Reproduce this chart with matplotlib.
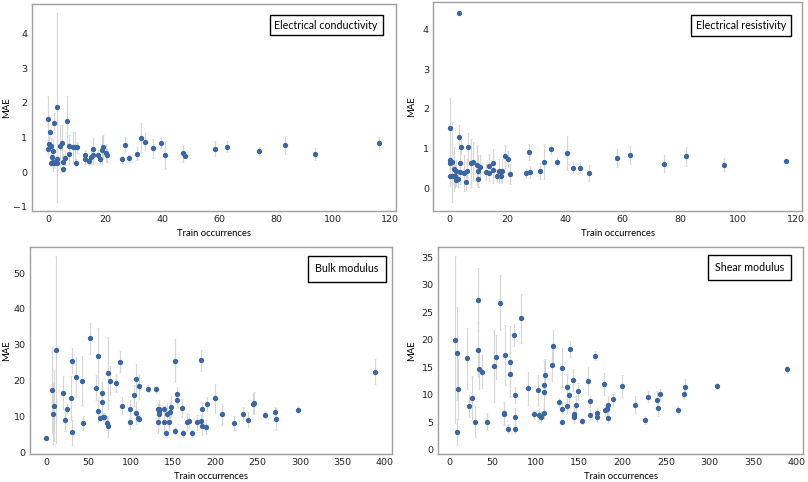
import matplotlib
matplotlib.use("Agg")
import matplotlib.pyplot as plt
import numpy as np

# Electrical conductivity
cond_x = [0, 0.7, 0.2, 0.1, 1.2, 1.4, 0.9, 1.8, 1.8, 2.2, 2.2, 3.1, 3.1, 3.1, 4.2, 4.9, 5.1, 5.2,
          6.0, 6.6, 7.2, 7.5, 8.9, 9.5, 9.8, 10.3, 12.9, 12.9, 14.2, 15.2, 15.6, 15.7, 17.6, 18.3,
          19.0, 19.4, 20.2, 20.6, 25.9, 26.9, 28.3, 31.1, 32.7, 33.9, 36.7, 39.7, 41.0, 47.2, 48.0,
          58.5, 62.8, 73.9, 83.0, 93.7, 116.2]
cond_y = [1.55, 1.16, 0.83, 0.67, 0.75, 0.44, 0.27, 0.30, 0.61, 1.41, 0.26, 1.87, 0.37, 0.26, 0.75,
          0.85, 0.10, 0.29, 0.42, 1.47, 0.77, 0.54, 0.72, 0.72, 0.27, 0.72, 0.50, 0.38, 0.32, 0.45,
          0.68, 0.50, 0.50, 0.38, 0.64, 0.72, 0.56, 0.50, 0.38, 0.80, 0.40, 0.54, 1.00, 0.88, 0.69,
          0.84, 0.50, 0.55, 0.48, 0.68, 0.74, 0.62, 0.79, 0.52, 0.85]
cond_err = [0.65, 0.10, 0.20, 0.15, 0.25, 0.20, 0.10, 0.25, 0.35, 0.30, 0.15, 2.72, 0.30, 0.20, 0.62,
            0.50, 0.10, 0.25, 0.20, 0.73, 0.30, 0.30, 0.45, 0.45, 0.10, 0.15, 0.15, 0.15, 0.10, 0.20,
            0.30, 0.25, 0.15, 0.10, 0.40, 0.35, 0.25, 0.20, 0.10, 0.22, 0.10, 0.18, 0.42, 0.25, 0.28,
            0.15, 0.40, 0.25, 0.08, 0.22, 0.16, 0.12, 0.26, 0.18, 0.18]

# Electrical resistivity
res_x = [3.0, 0, 0, 0, 0.9, 0, 0.9, 1.8, 1.3, 2.0, 2.0, 2.7, 3.0, 3.5, 3.5, 3.9, 5.0, 5.7, 6.2, 6.1,
         7.2, 8.1, 9.3, 9.6, 9.8, 10.3, 12.4, 13.5, 13.6, 15.0, 15.0, 16.4, 17.2, 17.7, 18.1, 19.1,
         20.3, 21.0, 26.4, 27.3, 27.7, 31.4, 32.7, 35.1, 37.1, 40.6, 42.6, 45.2, 48.4, 58.1, 62.6,
         74.2, 82.0, 95.0, 116.5]
res_y = [4.43, 1.53, 0.70, 0.64, 0.66, 0.30, 0.30, 0.30, 0.49, 0.42, 0.21, 0.23, 1.30, 0.63, 0.40,
         1.05, 0.39, 0.15, 1.04, 0.43, 0.64, 0.67, 0.59, 0.23, 0.43, 0.53, 0.40, 0.57, 0.37, 0.47,
         0.64, 0.30, 0.44, 0.30, 0.44, 0.80, 0.74, 0.35, 0.38, 0.91, 0.41, 0.43, 0.67, 0.98, 0.67,
         0.89, 0.52, 0.52, 0.38, 0.76, 0.84, 0.62, 0.81, 0.59, 0.69]
res_err = [0.03, 0.75, 0.20, 0.15, 1.00, 0.25, 0.20, 0.30, 0.55, 0.30, 0.15, 0.20, 0.30, 0.40, 0.30,
           0.20, 0.45, 0.20, 0.35, 0.30, 0.60, 0.50, 0.50, 0.20, 0.40, 0.30, 0.20, 0.30, 0.20, 0.35,
           0.35, 0.15, 0.30, 0.15, 0.30, 0.30, 0.20, 0.25, 0.12, 0.20, 0.15, 0.20, 0.45, 0.12, 0.12,
           0.42, 0.15, 0.15, 0.20, 0.22, 0.22, 0.22, 0.24, 0.16, 0.04]

# Bulk modulus
bulk_x = [0.4, 7.0, 7.8, 9.7, 12.1, 20.6, 22.9, 24.5, 29.5, 30.7, 31.1, 35.0, 42.4, 44.3, 52.4, 59.4,
          61.4, 65.6, 66.4, 61.7, 64.0, 67.0, 68.5, 71.5, 73.4, 73.4, 76.1, 82.7, 87.0, 89.7, 99.0,
          99.8, 104.4, 106.8, 106.4, 108.6, 109.9, 109.9, 121.1, 130.0, 132.0, 133.6, 133.6, 134.0,
          132.4, 139.0, 139.7, 142.5, 142.1, 145.5, 147.5, 147.1, 153.0, 154.9, 154.9, 152.5, 160.7,
          161.5, 166.5, 168.8, 172.3, 178.1, 182.8, 183.6, 184.4, 184.7, 188.6, 190.6, 199.9, 208.0,
          222.0, 232.8, 238.3, 244.9, 245.3, 258.4, 270.1, 271.7, 297.7, 389.3]
bulk_y = [4.0, 17.5, 10.8, 13.1, 28.7, 16.7, 9.1, 12.1, 15.2, 25.6, 5.7, 21.1, 19.9, 8.3, 31.8, 18.0,
          26.8, 16.7, 14.1, 11.6, 9.7, 9.9, 10.0, 8.2, 7.3, 22.2, 20.0, 19.3, 25.3, 13.1, 12.2, 8.5,
          15.9, 20.6, 11.0, 9.7, 18.4, 9.4, 17.8, 17.6, 12.2, 12.2, 10.6, 11.5, 8.5, 12.0, 8.5, 10.8,
          5.4, 8.4, 12.8, 11.3, 25.6, 16.2, 14.5, 6.1, 12.4, 5.4, 8.5, 8.8, 5.4, 8.4, 8.9, 25.7, 12.1,
          7.5, 7.2, 13.5, 15.1, 10.6, 8.3, 10.8, 9.2, 13.6, 13.9, 10.5, 11.3, 9.4, 11.9, 22.5]
bulk_err = [0.5, 12.0, 8.5, 10.0, 26.0, 4.5, 3.0, 1.5, 6.0, 3.5, 3.5, 5.5, 7.0, 2.0, 4.3, 3.5,
            8.0, 3.0, 4.0, 3.5, 1.0, 1.0, 1.0, 2.0, 3.0, 10.0, 4.0, 2.5, 3.0, 2.5, 2.5, 2.0,
            3.0, 4.0, 3.0, 1.0, 3.5, 1.0, 1.0, 1.0, 1.5, 2.5, 3.0, 2.0, 3.0, 1.0, 3.0, 3.0,
            1.0, 2.0, 3.0, 2.5, 6.0, 2.0, 2.0, 1.0, 2.5, 1.0, 2.5, 2.0, 1.0, 2.0, 1.5, 3.0, 2.0,
            2.5, 2.0, 2.0, 4.0, 3.0, 2.0, 2.0, 2.0, 3.0, 3.0, 1.0, 1.5, 3.0, 1.0, 3.5]

# Shear modulus
shear_x = [6.3, 8.6, 8.6, 10.5, 20.1, 22.8, 25.9, 29.3, 33.1, 33.1, 35.0, 37.4, 43.8, 51.2, 53.5, 59.2,
           63.0, 63.2, 64.6, 67.6, 69.9, 70.7, 75.3, 76.0, 76.0, 75.5, 82.6, 91.0, 97.9, 102.9, 104.0,
           105.6, 109.0, 109.8, 109.4, 110.2, 118.2, 119.4, 127.1, 129.7, 130.5, 130.5, 135.5, 135.5,
           137.8, 139.3, 142.8, 143.5, 144.2, 144.2, 146.6, 149.0, 153.5, 160.4, 162.0, 162.0, 168.5,
           170.0, 170.3, 178.9, 179.5, 181.5, 182.7, 182.9, 188.8, 199.6, 213.7, 225.2, 229.5, 239.9,
           240.5, 242.8, 264.0, 270.1, 271.6, 308.8, 388.6]
shear_y = [20.0, 17.5, 3.2, 11.0, 16.6, 7.9, 9.4, 5.1, 27.3, 18.2, 14.6, 14.2, 5.1, 15.2, 16.9, 26.7,
           6.4, 6.6, 17.2, 3.8, 16.0, 13.8, 20.9, 9.9, 6.0, 3.8, 23.9, 11.2, 6.4, 10.8, 6.3, 6.0, 10.5,
           11.8, 6.6, 13.5, 15.4, 18.8, 8.6, 7.4, 14.9, 5.1, 11.3, 8.0, 9.9, 18.3, 12.7, 6.3, 6.0, 6.5,
           8.2, 10.6, 5.2, 12.5, 8.8, 6.3, 17.1, 6.6, 6.0, 11.9, 7.2, 7.3, 8.2, 5.8, 9.2, 11.5, 8.2,
           5.4, 9.6, 9.1, 7.6, 10.1, 7.2, 10.2, 11.4, 11.6, 14.6]
shear_err = [15.2, 8.5, 2.3, 5.5, 5.5, 2.0, 4.0, 2.8, 5.8, 5.0, 3.5, 3.0, 1.5, 6.5, 4.0, 5.0,
             2.0, 2.0, 5.5, 0.8, 6.5, 4.0, 2.0, 1.5, 1.5, 0.8, 4.5, 3.0, 0.8, 2.8, 1.0, 1.0, 2.5,
             4.5, 1.0, 3.0, 3.0, 3.0, 0.8, 1.0, 3.5, 0.5, 2.5, 1.5, 2.0, 1.5, 2.0, 1.5, 1.0, 1.0,
             1.5, 1.5, 0.5, 2.5, 1.0, 1.0, 0.8, 1.0, 1.0, 2.0, 1.0, 1.2, 1.5, 1.0, 1.0, 2.0, 1.5,
             0.8, 1.0, 1.5, 1.5, 1.0, 0.8, 1.0, 1.5, 0.6, 0.7]

# title, data, axes rect, (text x, text y, box pad), ylabel pad
panels = [
    ("Electrical conductivity", cond_x, cond_y, cond_err, [0.039, 0.562, 0.451, 0.430], (0.950, 0.924, 0.45), 1.5),
    ("Electrical resistivity", res_x, res_y, res_err, [0.536, 0.562, 0.457, 0.434], (0.957, 0.915, 0.45), 5),
    ("Bulk modulus", bulk_x, bulk_y, bulk_err, [0.037, 0.058, 0.448, 0.430], (0.963, 0.921, 0.7), 1.5),
    ("Shear modulus", shear_x, shear_y, shear_err, [0.542, 0.058, 0.452, 0.430], (0.948, 0.927, 0.65), 4),
]

label_font = "Lato"
dot_color = "#3b66a0"

fig = plt.figure(figsize=(8.08, 4.82), dpi=100)
for title, xs, ys, errs, pos, (tx, ty, pad), ypad in panels:
    ax = fig.add_axes(pos)
    ax.errorbar(xs, ys, yerr=errs, fmt="o", color=dot_color, markersize=2.8,
                ecolor="#d6d6d6", elinewidth=0.8, capsize=1.0, capthick=0.5, zorder=3)
    for s in ax.spines.values():
        s.set_color("#a0a0a0")
        s.set_linewidth(1.0)
    ax.tick_params(labelsize=6.8, length=0, pad=3, labelcolor="#222222")
    ax.set_xlabel("Train occurrences", fontsize=6.8, family=label_font, labelpad=3.5)
    ax.set_ylabel("MAE", fontsize=6.8, family=label_font, labelpad=ypad)
    ax.text(tx, ty, title, transform=ax.transAxes, ha="right", va="top",
            fontsize=7.7, family=label_font,
            bbox=dict(boxstyle="square,pad=%s" % pad, facecolor="white", edgecolor="black", linewidth=1.0))

fig.savefig("out.png", dpi=100)
